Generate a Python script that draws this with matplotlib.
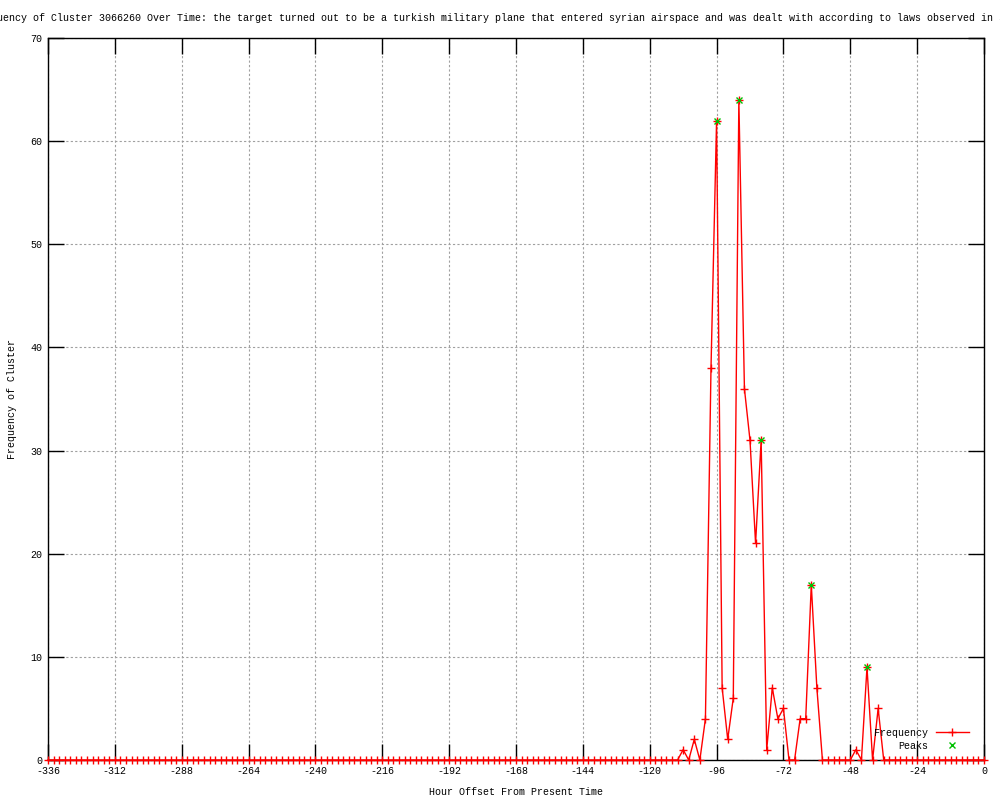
import matplotlib
matplotlib.use("Agg")
import matplotlib.pyplot as plt

plt.rcParams['font.family'] = ['Liberation Mono', 'DejaVu Sans Mono']
plt.rcParams['axes.unicode_minus'] = False

title = ("Frequency of Cluster 3066260 Over Time: the target turned out to be a turkish "
         "military plane that entered syrian airspace and was dealt with according to laws "
         "observed in such cases")
x_label = "Hour Offset From Present Time"
y_label = "Frequency of Cluster"

# hour offsets, one sample every 2 hours from -336 to 0
hours = list(range(-336, 1, 2))
frequency = [
    0, 0, 0, 0, 0, 0, 0, 0, 0, 0, 0, 0, 0, 0, 0, 0, 0, 0, 0, 0, 0, 0, 0, 0,   # -336 .. -290
    0, 0, 0, 0, 0, 0, 0, 0, 0, 0, 0, 0, 0, 0, 0, 0, 0, 0, 0, 0, 0, 0, 0, 0,   # -288 .. -242
    0, 0, 0, 0, 0, 0, 0, 0, 0, 0, 0, 0, 0, 0, 0, 0, 0, 0, 0, 0, 0, 0, 0, 0,   # -240 .. -194
    0, 0, 0, 0, 0, 0, 0, 0, 0, 0, 0, 0, 0, 0, 0, 0, 0, 0, 0, 0, 0, 0, 0, 0,   # -192 .. -146
    0, 0, 0, 0, 0, 0, 0, 0, 0, 0, 0, 0, 0, 0, 0, 0, 0, 0, 1, 0, 2, 0, 4, 38,  # -144 .. -98
    62, 7, 2, 6, 64, 36, 31, 21, 31, 1, 7, 4, 5, 0, 0, 4, 4, 17, 7, 0, 0, 0, 0, 0,  # -96 .. -50
    0, 1, 0, 9, 0, 5, 0, 0, 0, 0, 0, 0, 0, 0, 0, 0, 0, 0, 0, 0, 0, 0, 0, 0,   # -48 .. -2
    0,                                                                          # 0
]
peak_hours = [-96, -88, -80, -62, -42]
peak_values = [62, 64, 31, 17, 9]

x_ticks = [-336, -312, -288, -264, -240, -216, -192, -168, -144, -120, -96, -72, -48, -24, 0]
y_ticks = [0, 10, 20, 30, 40, 50, 60, 70]

FS = 7.2
fig = plt.figure(figsize=(10, 8), dpi=100)
ax = fig.add_axes([0.048, 0.05, 0.936, 0.9025])

ax.plot(hours, frequency, color='#ff0000', lw=1.0, marker='+', ms=6, mew=1.0,
        label='Frequency', clip_on=False, zorder=3)
ax.plot(peak_hours, peak_values, ls='none', color='#00c000', marker='x', ms=5, mew=1.0,
        label='Peaks', clip_on=False, zorder=4)

ax.set_xlim(-336, 0)
ax.set_ylim(0, 70)
ax.set_xticks(x_ticks)
ax.set_yticks(y_ticks)
ax.tick_params(direction='in', length=11.5, width=1, top=True, right=True,
               labelsize=FS, pad=4, colors='black')
ax.grid(True, color='#a0a0a0', ls=(0, (2, 2)), lw=0.8)
for s in ax.spines.values():
    s.set_linewidth(1.0)
    s.set_color('black')

ax.set_xlabel(x_label, fontsize=FS, labelpad=8)
ax.set_ylabel(y_label, fontsize=FS, labelpad=10)
fig.text(0.516, 0.977, title, ha='center', va='center', fontsize=FS)

leg = ax.legend(loc='lower right', frameon=False, markerfirst=False, fontsize=FS,
                handlelength=3.3, handletextpad=0.8, labelspacing=0.3,
                borderaxespad=0, bbox_to_anchor=(0.988, 0.0072), numpoints=1)

fig.savefig('out.png', dpi=100)
